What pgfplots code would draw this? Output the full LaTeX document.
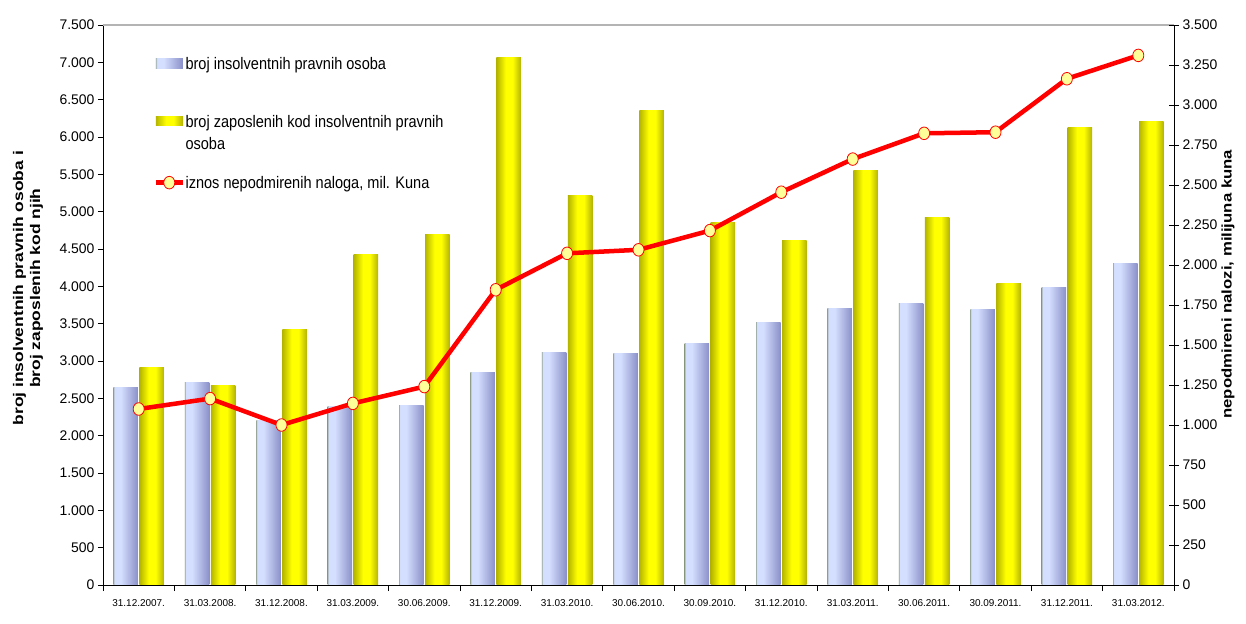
\documentclass[border=0pt]{standalone}
\usepackage{graphicx}
\usepackage{pgfplots}
\pgfplotsset{compat=1.18}
\usepackage{fontspec}
\setmainfont{Liberation Sans}
\definecolor{blueG}{HTML}{A4B2AE}
\definecolor{blueL}{HTML}{D4DEFE}
\definecolor{blueD}{HTML}{8A90C8}
\definecolor{yelO}{HTML}{B4B400}
\definecolor{yelY}{HTML}{FFFF00}
\definecolor{markY}{HTML}{FFFF99}
\definecolor{topgray}{HTML}{B4B4B4}
\pgfdeclarehorizontalshading{bluebar}{100bp}{color(0bp)=(blueG); color(25bp)=(blueG); color(27bp)=(blueL); color(40bp)=(blueL); color(75bp)=(blueD); color(100bp)=(blueD)}
\pgfdeclarehorizontalshading{yelbar}{100bp}{color(0bp)=(yelO); color(25bp)=(yelO); color(44bp)=(yelY); color(58bp)=(yelY); color(75bp)=(yelO); color(100bp)=(yelO)}
\pgfplotsset{
  bluestyle/.style={ybar, bar width=24.5bp, bar shift=-13bp, draw=none, shade, shading=bluebar},
  yelstyle/.style={ybar, bar width=24.5bp, bar shift=13bp, draw=none, shade, shading=yelbar},
  linestyle/.style={red, line width=4.5bp, mark=*, mark size=6bp, mark options={fill=markY, draw=red, line width=0.8bp, xscale=0.92, yscale=1.05}},
  barlegendA/.style={legend image code/.code={\path[##1] (0bp,1.6bp) rectangle (27bp,11bp); \path (0bp,-45.4bp);}},
  barlegendB/.style={legend image code/.code={\path[##1] (0bp,23.6bp) rectangle (27bp,33bp);}},
  linelegendC/.style={legend image code/.code={\draw[##1, mark repeat=2, mark phase=2] plot coordinates {(0bp,6bp) (13.5bp,6bp) (27bp,6bp)}; \path (0bp,35.5bp);}},
}
\newcommand{\bbar}[2]{\addplot[bluestyle, forget plot] coordinates {(#1,#2)};}
\newcommand{\ybar}[2]{\addplot[yelstyle, forget plot] coordinates {(#1,#2)};}
\newcommand{\vs}[1]{\scalebox{1}[1.15]{#1}}
\begin{document}
\begin{tikzpicture}
\begin{axis}[
  scale only axis, width=1071bp, height=560bp,
  at={(0,0)}, anchor=south west,
  xmin=-0.5, xmax=14.5, ymin=0, ymax=7500,
  axis x line*=bottom, axis y line*=left,
  axis line style={black, line width=0.8bp, -},
  tick align=outside,
  tick style={black, line width=0.8bp},
  xtick={0,...,14},
  xticklabels={31.12.2007.,31.03.2008.,31.12.2008.,31.03.2009.,30.06.2009.,31.12.2009.,31.03.2010.,30.06.2010.,30.09.2010.,31.12.2010.,31.03.2011.,30.06.2011.,30.09.2011.,31.12.2011.,31.03.2012.},
  major x tick style={draw=none},
  minor xtick={-0.5,0.5,...,14.5},
  minor tick length=6bp,
  major tick length=5bp,
  xticklabel style={font=\fontsize{10}{10}\selectfont, yshift=-6bp},
  ytick={0,500,...,7500},
  yticklabel style={font=\fontsize{14}{14}\selectfont},
  /pgf/number format/.cd, 1000 sep={.}, assume math mode=true, /pgfplots/.cd,
  ylabel={\scalebox{1.25}[1]{broj insolventnih pravnih osoba i}\\\scalebox{1.25}[1]{broj zaposlenih kod njih}},
  ylabel style={align=center, font=\bfseries\fontsize{14}{17}\selectfont, at={(axis description cs:-0.0700,0.53)}, anchor=center},
  legend style={at={(axis description cs:0.0470,0.9417)}, anchor=north west, draw=none, fill=none, inner sep=0pt, row sep=0pt,
    font=\fontsize{14.6}{22}\selectfont, nodes={inner xsep=0.5bp, inner ysep=0pt}, cells={anchor=base west, align=left},
    /tikz/every odd column/.append style={column sep=0pt}},
  clip=false,
]
\draw[topgray, line width=1.2bp] (rel axis cs:0,1) -- (rel axis cs:1,1);
\addplot[bluestyle, barlegendA] coordinates {(0,2650)};
\addlegendentry{\vs{broj insolventnih pravnih osoba}}
\addplot[yelstyle, barlegendB] coordinates {(0,2910)};
\addlegendentry{\vs{broj zaposlenih kod insolventnih pravnih}\\\vs{osoba}}
\addlegendimage{linestyle, linelegendC}
\addlegendentry{\vs{iznos nepodmirenih naloga, mil. Kuna}}
% blue bars: broj insolventnih pravnih osoba
\bbar{1}{2710} \bbar{2}{2200} \bbar{3}{2390} \bbar{4}{2400} \bbar{5}{2840} \bbar{6}{3120} \bbar{7}{3100}
\bbar{8}{3240} \bbar{9}{3520} \bbar{10}{3700} \bbar{11}{3770} \bbar{12}{3690} \bbar{13}{3990} \bbar{14}{4310}
% yellow bars: broj zaposlenih
\ybar{1}{2670} \ybar{2}{3420} \ybar{3}{4420} \ybar{4}{4690} \ybar{5}{7070} \ybar{6}{5220} \ybar{7}{6360}
\ybar{8}{4850} \ybar{9}{4610} \ybar{10}{5550} \ybar{11}{4920} \ybar{12}{4040} \ybar{13}{6130} \ybar{14}{6210}
\end{axis}
\begin{axis}[
  scale only axis, width=1071bp, height=560bp,
  at={(0,0)}, anchor=south west,
  xmin=-0.5, xmax=14.5, ymin=0, ymax=3500,
  axis x line=none, axis y line*=right,
  axis line style={black, line width=0.8bp, -},
  tick align=center, major tick length=10bp,
  tick style={black, line width=0.8bp},
  ytick={0,250,...,3500},
  yticklabel style={font=\fontsize{14}{14}\selectfont},
  /pgf/number format/.cd, 1000 sep={.}, assume math mode=true, /pgfplots/.cd,
  ylabel={\scalebox{1.2}[1]{nepodmireni nalozi, milijuna kuna}},
  ylabel style={font=\bfseries\fontsize{14}{17}\selectfont, at={(axis description cs:1.0504,0.537)}, anchor=center},
  clip=false,
]
\addplot[linestyle] coordinates {
(0,1100) (1,1165) (2,1000) (3,1135) (4,1240) (5,1845) (6,2073) (7,2095) (8,2215) (9,2455) (10,2662) (11,2823) (12,2830) (13,3164) (14,3310)};
\end{axis}
\pgfresetboundingbox
\path[use as bounding box] (-103bp,-39bp) rectangle (1143bp,585bp);
\end{tikzpicture}
\end{document}
